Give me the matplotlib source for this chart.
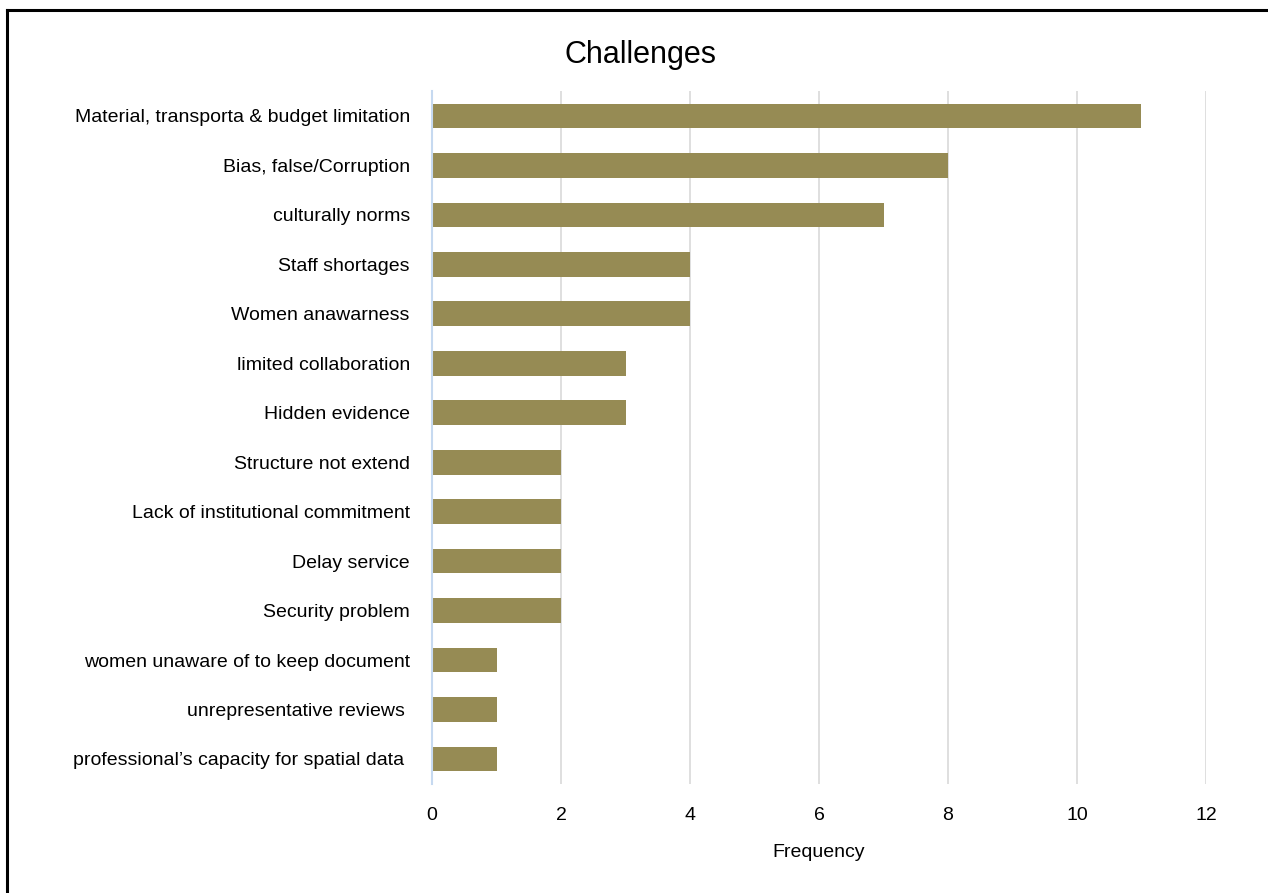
import matplotlib
matplotlib.use("Agg")
import matplotlib.pyplot as plt
from matplotlib.lines import Line2D

plt.rcParams['font.family'] = ['Liberation Sans Narrow', 'Liberation Sans', 'DejaVu Sans']

challenges = [
    "Material, transporta & budget limitation",
    "Bias, false/Corruption",
    "culturally norms",
    "Staff shortages",
    "Women anawarness",
    "limited collaboration",
    "Hidden evidence",
    "Structure not extend",
    "Lack of institutional commitment",
    "Delay service",
    "Security problem",
    "women unaware of to keep document",
    "unrepresentative reviews ",
    "professional\u2019s capacity for spatial data ",
]
frequency = [11, 8, 7, 4, 4, 3, 3, 2, 2, 2, 2, 1, 1, 1]
xticks = [0, 2, 4, 6, 8, 10, 12]

fig = plt.figure(figsize=(12.68, 8.93), dpi=100)
ax = fig.add_axes([0.3407, 0.1224, 0.6104, 0.7754])

pos = list(range(len(challenges)))
ax.barh(pos, frequency, height=0.5, color='#968b54', zorder=3)
ax.set_ylim(len(challenges) - 0.5, -0.5)
ax.set_yticks(pos)
ax.set_yticklabels(challenges, fontsize=14)
ax.set_xlim(0, 12)
ax.set_xticks(xticks)
ax.set_xticklabels([str(t) for t in xticks], fontsize=14)
ax.tick_params(axis='both', length=0)
ax.tick_params(axis='y', pad=16)
ax.tick_params(axis='x', pad=17)
ax.grid(axis='x', color='#d9d9d9', linewidth=1.2, zorder=0)
for s in ['top', 'right', 'bottom']:
    ax.spines[s].set_visible(False)
ax.spines['left'].set_color('#c6d9f0')
ax.spines['left'].set_linewidth(1.5)
ax.spines['left'].set_zorder(4)

ax.set_xlabel('Frequency', fontsize=14, labelpad=14)
fig.text(0.505, 0.938, 'Challenges', ha='center', va='center', fontsize=22)

# frame lines along top and left edges
fig.add_artist(Line2D([0.0058, 0.0058], [0, 0.989], color='black', linewidth=2.2, transform=fig.transFigure))
fig.add_artist(Line2D([0.0058, 1.0], [0.989, 0.989], color='black', linewidth=2.2, transform=fig.transFigure))

fig.savefig('out.png', dpi=100)
